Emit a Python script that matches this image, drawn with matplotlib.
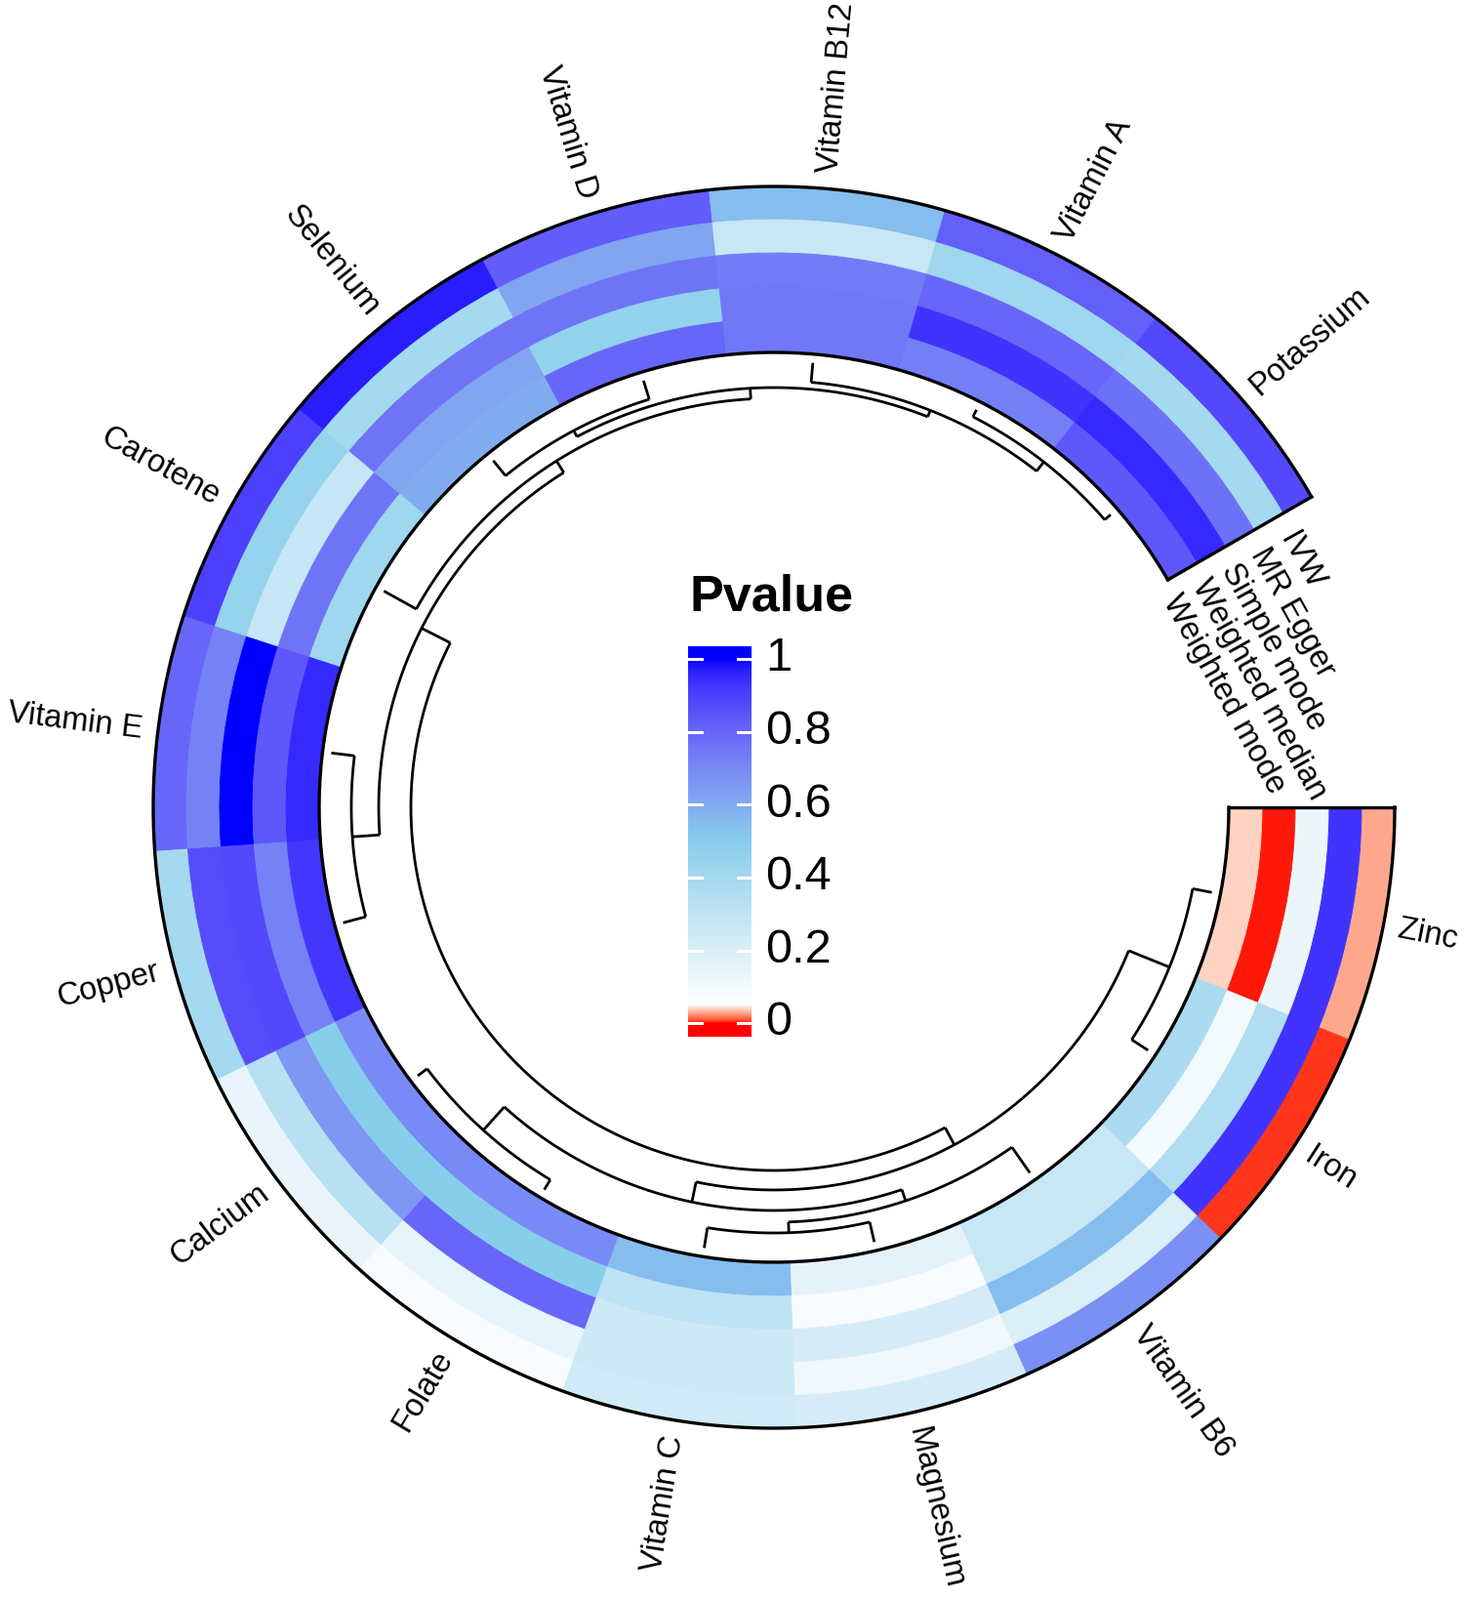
import numpy as np
import matplotlib.pyplot as plt
from matplotlib.colors import ListedColormap, to_rgb

plt.rcParams['font.family'] = ['Liberation Sans', 'DejaVu Sans']

# sectors in dendrogram order (clockwise from 3 o'clock)
nutrients = ["Zinc", "Iron", "Vitamin B6", "Magnesium", "Vitamin C", "Folate",
             "Calcium", "Copper", "Vitamin E", "Carotene", "Selenium",
             "Vitamin D", "Vitamin B12", "Vitamin A", "Potassium"]
methods = ["IVW", "MR Egger", "Simple mode", "Weighted median", "Weighted mode"]

ivw     = [0.028, 0.004, 0.68, 0.22, 0.24, 0.08, 0.14, 0.40, 0.80, 0.90, 0.97, 0.83, 0.55, 0.82, 0.88]
egger   = [0.93, 0.93, 0.20, 0.11, 0.25, 0.15, 0.33, 0.87, 0.72, 0.45, 0.40, 0.62, 0.27, 0.42, 0.40]
simple  = [0.13, 0.36, 0.55, 0.22, 0.25, 0.80, 0.66, 0.88, 1.00, 0.28, 0.76, 0.76, 0.74, 0.80, 0.77]
wmedian = [0.001, 0.10, 0.27, 0.08, 0.31, 0.50, 0.50, 0.72, 0.84, 0.76, 0.62, 0.46, 0.75, 0.93, 0.95]
wmode   = [0.039, 0.38, 0.27, 0.16, 0.55, 0.70, 0.70, 0.92, 0.95, 0.42, 0.60, 0.80, 0.75, 0.73, 0.84]
pvals = [ivw, egger, simple, wmedian, wmode]

# hierarchical clustering (left, right, height)
dend = ((("Zinc", "Iron", 0.235),
         (("Vitamin B6", ("Magnesium", "Vitamin C", 0.247), 0.376),
          ("Folate", "Calcium", 0.141), 0.518), 0.765),
        (("Copper", "Vitamin E", 0.282),
         ("Carotene",
          (("Selenium", "Vitamin D", 0.235),
           ("Vitamin B12", ("Vitamin A", "Potassium", 0.094), 0.235), 0.318), 0.447), 0.612),
        1.0)

col_breaks = [0, 0.05, 0.5, 1]
col_values = ["#FF0000", "#FFFFFF", "#87CEEB", "#0000FF"]
legend_ticks = [0, 0.2, 0.4, 0.6, 0.8, 1]

# ---- colour ramp interpolated in LAB space (like circlize::colorRamp2)
M = np.array([[0.4124564, 0.3575761, 0.1804375],
              [0.2126729, 0.7151522, 0.0721750],
              [0.0193339, 0.1191920, 0.9503041]])
WHITE = np.array([0.95047, 1.0, 1.08883])
D = 6 / 29

def to_lab(c):
    rgb = np.array(to_rgb(c))
    lin = np.where(rgb <= 0.04045, rgb / 12.92, ((rgb + 0.055) / 1.055) ** 2.4)
    xyz = M @ lin / WHITE
    f = np.where(xyz > D ** 3, np.cbrt(xyz), xyz / (3 * D * D) + 4 / 29)
    return np.array([116 * f[1] - 16, 500 * (f[0] - f[1]), 200 * (f[1] - f[2])])

def lab_to_rgb(lab):
    fy = (lab[:, 0] + 16) / 116
    f = np.stack([fy + lab[:, 1] / 500, fy, fy - lab[:, 2] / 200], axis=1)
    xyz = np.where(f > D, f ** 3, 3 * D * D * (f - 4 / 29)) * WHITE
    lin = xyz @ np.linalg.inv(M).T
    lin = np.clip(lin, 0, None)
    rgb = np.where(lin <= 0.0031308, 12.92 * lin, 1.055 * lin ** (1 / 2.4) - 0.055)
    return np.clip(rgb, 0, 1)

labs = np.array([to_lab(c) for c in col_values])
xs = np.linspace(0, 1, 1024)
lab_grid = np.stack([np.interp(xs, col_breaks, labs[:, k]) for k in range(3)], axis=1)
cmap = ListedColormap(lab_to_rgb(lab_grid))

# ---- figure / polar axes (radius in pixels)
W, H = 1500, 1639
cx, cy, R = 793, 827, 636
fig = plt.figure(figsize=(W / 100, H / 100), dpi=100)
ax = fig.add_axes([(cx - R) / W, (H - cy - R) / H, 2 * R / W, 2 * R / H], projection='polar')
ax.set_theta_direction(-1)
ax.set_theta_offset(0)
ax.set_ylim(0, R)
ax.axis('off')

n = len(nutrients)
sec = np.deg2rad(22)
theta = (np.arange(n) + 0.5) * sec
r_in, tw = 466, 34

for j, vals in enumerate(pvals):
    bottom = r_in + (len(methods) - 1 - j) * tw
    cols = [cmap(v) for v in vals]
    ax.bar(theta, tw, width=sec, bottom=bottom, color=cols, edgecolor=cols,
           linewidth=0.6, align='center')

# border of the heatmap block
arc = np.linspace(0, n * sec, 400)
ax.plot(arc, np.full_like(arc, r_in + 5 * tw), color='black', lw=2.4, clip_on=False)
ax.plot(arc, np.full_like(arc, r_in), color='black', lw=2.4, clip_on=False)
for t in (0, n * sec):
    ax.plot([t, t], [r_in, r_in + 5 * tw], color='black', lw=2.4, clip_on=False,
            solid_capstyle='projecting')

# ---- dendrogram
r_leaf, r_root = 457, 372
pos = {name: t for name, t in zip(nutrients, theta)}

def radius(h):
    return r_leaf - h * (r_leaf - r_root)

def draw(node):
    if isinstance(node, str):
        return pos[node], 0.0
    left, right, h = node
    t1, h1 = draw(left)
    t2, h2 = draw(right)
    kw = dict(color='black', lw=2.0, solid_capstyle='butt')
    ax.plot([t1, t1], [radius(h1), radius(h)], **kw)
    ax.plot([t2, t2], [radius(h2), radius(h)], **kw)
    a = np.linspace(t1, t2, 100)
    ax.plot(a, np.full_like(a, radius(h)), **kw)
    return (t1 + t2) / 2, h

draw(dend)

# ---- sector labels
for name, t in zip(nutrients, theta):
    phi = (-np.rad2deg(t)) % 360
    if np.cos(np.deg2rad(phi)) >= 0:
        rot, ha = phi if phi < 180 else phi - 360, 'left'
    else:
        rot, ha = phi - 180, 'right'
    ax.text(t, 652, name, rotation=rot, rotation_mode='anchor', ha=ha, va='center',
            fontsize=23.5)

# ---- track labels in the gap
for j, m in enumerate(methods):
    rc = r_in + (len(methods) - 1 - j) * tw + tw / 2
    ax.text(np.deg2rad(360 - 28), rc - 24, m, rotation=-61, rotation_mode='anchor',
            ha='left', va='center', fontsize=23.5)

# ---- legend
y0, y1 = 1062, 662
lo, hi = -0.037, 1.035
cax = fig.add_axes([705 / W, (H - y0) / H, 65 / W, (y0 - y1) / H])
grad = np.clip(np.linspace(lo, hi, 600), 0, 1)[:, None]
cax.imshow(grad, cmap=cmap, vmin=0, vmax=1, aspect='auto', origin='lower',
           extent=(0, 1, lo, hi))
for v in legend_ticks:
    cax.plot([0, 0.22], [v, v], color='white', lw=2.2)
    cax.plot([0.78, 1], [v, v], color='white', lw=2.2)
    fig.text(784 / W, 1 - (1048 - v * 373) / H, f"{v:g}", fontsize=35, va='center', ha='left')
cax.set_xlim(0, 1)
cax.set_ylim(lo, hi)
cax.axis('off')
fig.text(707 / W, 1 - 612 / H, "Pvalue", fontsize=37.5, fontweight='bold', va='center', ha='left')

fig.savefig("out.png", dpi=100, facecolor='white')
